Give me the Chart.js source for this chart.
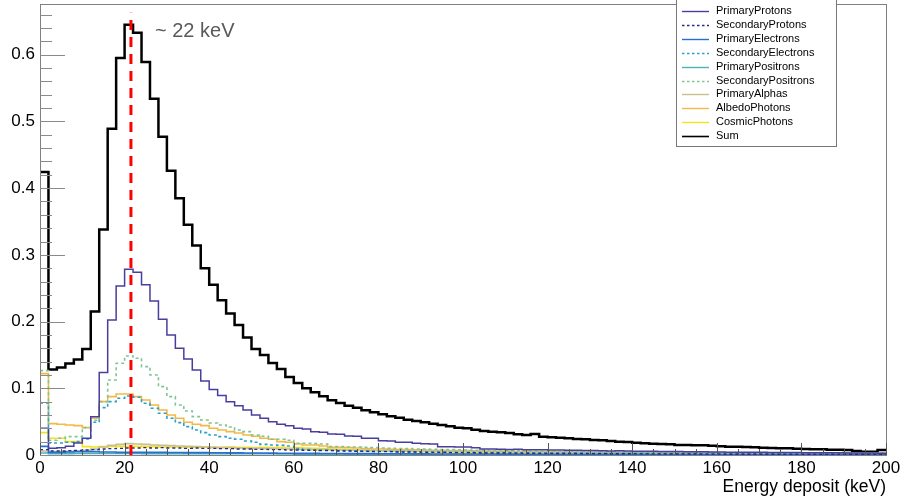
<!DOCTYPE html>
<html>
<head>
<meta charset="utf-8">
<script src="https://cdn.jsdelivr.net/npm/chart.js@4.4.1/dist/chart.umd.min.js"></script>
<style>
  html, body { margin: 0; padding: 0; background: #fff; }
  #wrap { width: 904px; height: 498px; }
</style>
</head>
<body>
<div id="wrap"><canvas id="myChart" width="904" height="498"></canvas></div>
<script>
// histogram: 100 bins of 2 keV from 0 to 200 keV
const binEdges = Array.from({ length: 101 }, (_, i) => 2 * i);
const xTicks = [0, 20, 40, 60, 80, 100, 120, 140, 160, 180, 200];
const yTicks = [0, 0.1, 0.2, 0.3, 0.4, 0.5, 0.6];
const peakLine = [21.5, 0.663];

const primaryProtons = [
  0.040, 0.010, 0.011, 0.013, 0.018, 0.025, 0.0575, 0.1235, 0.2025, 0.2535,
  0.2785, 0.274, 0.255, 0.231, 0.2035, 0.180, 0.160, 0.144, 0.1275, 0.111,
  0.098, 0.089, 0.080, 0.074, 0.0675, 0.060, 0.055, 0.050, 0.046, 0.044,
  0.040, 0.039, 0.035, 0.034, 0.0315, 0.031, 0.0285, 0.028, 0.025, 0.025,
  0.0215, 0.021, 0.019, 0.019, 0.0175, 0.017, 0.0165, 0.0125, 0.0125, 0.012,
  0.012, 0.011, 0.009, 0.009, 0.0088, 0.0083, 0.0086, 0.0080, 0.0079, 0.0078,
  0.0074, 0.0075, 0.0071, 0.0070, 0.0067, 0.0066, 0.0065, 0.0061, 0.0062, 0.0059,
  0.0058, 0.0056, 0.0055, 0.0054, 0.0051, 0.0051, 0.0049, 0.0048, 0.0047, 0.0045,
  0.0045, 0.0043, 0.0043, 0.0041, 0.0041, 0.0040, 0.0038, 0.0038, 0.0036, 0.0036,
  0.0035, 0.0034, 0.0033, 0.0033, 0.0032, 0.0031, 0.0030, 0.0030, 0.0029, 0.0028
];
const secondaryProtons = [
  0.008, 0.006, 0.006, 0.0065, 0.007, 0.0075, 0.008, 0.009, 0.0095, 0.010,
  0.0105, 0.0105, 0.011, 0.0105, 0.011, 0.0105, 0.0105, 0.010, 0.0105, 0.010,
  0.010, 0.0095, 0.0095, 0.009, 0.009, 0.0085, 0.0085, 0.008, 0.008, 0.0075,
  0.0075, 0.007, 0.007, 0.0065, 0.0065, 0.006, 0.006, 0.0055, 0.0055, 0.005,
  0.005, 0.005, 0.0045, 0.0045, 0.0045, 0.004, 0.004, 0.004, 0.0035, 0.0035,
  0.0035, 0.0033, 0.003, 0.003, 0.003, 0.0028, 0.0028, 0.0026, 0.0025, 0.0025,
  0.0024, 0.0023, 0.0022, 0.0022, 0.002, 0.002, 0.002, 0.0019, 0.0018, 0.0018,
  0.0017, 0.0017, 0.0016, 0.0016, 0.0015, 0.0015, 0.0014, 0.0014, 0.0013, 0.0013,
  0.0013, 0.0012, 0.0012, 0.0012, 0.0011, 0.0011, 0.0011, 0.001, 0.001, 0.001,
  0.001, 0.0009, 0.0009, 0.0009, 0.0009, 0.0008, 0.0008, 0.0008, 0.0008, 0.0007
];
const primaryElectrons = [
  0.013, 0.004, 0.004, 0.0045, 0.005, 0.005, 0.005, 0.0045, 0.0045, 0.004,
  0.004, 0.004, 0.004, 0.004, 0.004, 0.0038, 0.0038, 0.0036, 0.0035, 0.0035,
  0.0034, 0.0033, 0.0032, 0.0032, 0.003, 0.003, 0.003, 0.0028, 0.0027, 0.0026,
  0.0025, 0.0024, 0.0024, 0.0023, 0.0022, 0.0022, 0.0021, 0.0021, 0.002, 0.002,
  0.0019, 0.0019, 0.0018, 0.0018, 0.0017, 0.0017, 0.0016, 0.0016, 0.0015, 0.0015,
  0.0015, 0.0014, 0.0014, 0.0014, 0.0013, 0.0013, 0.0013, 0.0012, 0.0012, 0.0012,
  0.0011, 0.0011, 0.0011, 0.0011, 0.001, 0.001, 0.001, 0.001, 0.0009, 0.0009,
  0.0009, 0.0009, 0.0008, 0.0008, 0.0008, 0.0008, 0.0008, 0.0007, 0.0007, 0.0007,
  0.0007, 0.0007, 0.0006, 0.0006, 0.0006, 0.0006, 0.0006, 0.0006, 0.0005, 0.0005,
  0.0005, 0.0005, 0.0005, 0.0005, 0.0005, 0.0005, 0.0004, 0.0004, 0.0004, 0.0004
];
const secondaryElectrons = [
  0.078, 0.018, 0.018, 0.019, 0.020, 0.024, 0.049, 0.071, 0.080, 0.085,
  0.0885, 0.0865, 0.0775, 0.070, 0.0625, 0.055, 0.0485, 0.0425, 0.0375, 0.0335,
  0.030, 0.0275, 0.025, 0.0235, 0.021, 0.019, 0.016, 0.015, 0.0145, 0.0135,
  0.0095, 0.008, 0.0078, 0.0075, 0.007, 0.0068, 0.0065, 0.0062, 0.006, 0.0058,
  0.0056, 0.0054, 0.0052, 0.005, 0.0048, 0.0047, 0.0045, 0.0044, 0.0042, 0.0041,
  0.004, 0.0039, 0.0038, 0.0037, 0.0036, 0.0035, 0.0034, 0.0033, 0.0032, 0.0031,
  0.003, 0.003, 0.0029, 0.0028, 0.0028, 0.0027, 0.0026, 0.0026, 0.0025, 0.0025,
  0.0024, 0.0024, 0.0023, 0.0023, 0.0022, 0.0022, 0.0021, 0.0021, 0.002, 0.002,
  0.002, 0.0019, 0.0019, 0.0019, 0.0018, 0.0018, 0.0018, 0.0017, 0.0017, 0.0017,
  0.0016, 0.0016, 0.0016, 0.0016, 0.0015, 0.0015, 0.0015, 0.0015, 0.0014, 0.0014
];
const primaryPositrons = [
  0.003, 0.002, 0.002, 0.002, 0.0022, 0.0022, 0.0022, 0.0022, 0.0022, 0.0022,
  0.0022, 0.0022, 0.0021, 0.0021, 0.0021, 0.0021, 0.002, 0.002, 0.002, 0.002,
  0.002, 0.002, 0.0019, 0.0019, 0.0019, 0.0018, 0.0018, 0.0018, 0.0017, 0.0017,
  0.0013, 0.0013, 0.0013, 0.0012, 0.0012, 0.0012, 0.0012, 0.0011, 0.0011, 0.0011,
  0.0011, 0.001, 0.001, 0.001, 0.001, 0.001, 0.0009, 0.0009, 0.0009, 0.0009,
  0.0009, 0.0008, 0.0008, 0.0008, 0.0008, 0.0008, 0.0008, 0.0007, 0.0007, 0.0007,
  0.0007, 0.0007, 0.0007, 0.0006, 0.0006, 0.0006, 0.0006, 0.0006, 0.0006, 0.0006,
  0.0005, 0.0005, 0.0005, 0.0005, 0.0005, 0.0005, 0.0005, 0.0005, 0.0005, 0.0004,
  0.0004, 0.0004, 0.0004, 0.0004, 0.0004, 0.0004, 0.0004, 0.0004, 0.0004, 0.0004,
  0.0003, 0.0003, 0.0003, 0.0003, 0.0003, 0.0003, 0.0003, 0.0003, 0.0003, 0.0003
];
const secondaryPositrons = [
  0.1265, 0.022, 0.025, 0.0275, 0.0275, 0.041, 0.052, 0.080, 0.1125, 0.1375,
  0.1485, 0.145, 0.1325, 0.120, 0.1025, 0.0875, 0.075, 0.066, 0.0575, 0.0525,
  0.048, 0.045, 0.042, 0.0375, 0.035, 0.030, 0.028, 0.0235, 0.0235, 0.022,
  0.0175, 0.0175, 0.017, 0.0165, 0.0125, 0.0125, 0.012, 0.012, 0.0115, 0.011,
  0.0105, 0.010, 0.0098, 0.0095, 0.009, 0.0088, 0.0085, 0.0082, 0.008, 0.0078,
  0.0075, 0.0072, 0.007, 0.0068, 0.0066, 0.0064, 0.0062, 0.006, 0.0058, 0.0056,
  0.0055, 0.0053, 0.0052, 0.005, 0.0049, 0.0048, 0.0047, 0.0045, 0.0044, 0.0043,
  0.0042, 0.0041, 0.004, 0.0039, 0.0038, 0.0037, 0.0036, 0.0036, 0.0035, 0.0034,
  0.0033, 0.0033, 0.0032, 0.0031, 0.0031, 0.003, 0.003, 0.0029, 0.0029, 0.0028,
  0.0028, 0.0027, 0.0027, 0.0026, 0.0026, 0.0025, 0.0025, 0.0025, 0.0024, 0.0024
];
const primaryAlphas = [
  0.006, 0.005, 0.005, 0.0055, 0.006, 0.007, 0.009, 0.012, 0.0145, 0.016,
  0.017, 0.0165, 0.016, 0.015, 0.0145, 0.014, 0.0135, 0.013, 0.0125, 0.012,
  0.0115, 0.011, 0.011, 0.0105, 0.010, 0.010, 0.0095, 0.0095, 0.009, 0.009,
  0.0085, 0.0085, 0.008, 0.008, 0.0078, 0.0075, 0.0072, 0.007, 0.007, 0.0068,
  0.0066, 0.0065, 0.0063, 0.0062, 0.006, 0.006, 0.0058, 0.0057, 0.0055, 0.0055,
  0.0054, 0.0052, 0.0051, 0.005, 0.005, 0.0049, 0.0048, 0.0047, 0.0046, 0.0045,
  0.0045, 0.0044, 0.0043, 0.0042, 0.0042, 0.0041, 0.004, 0.004, 0.0039, 0.0038,
  0.0038, 0.0037, 0.0036, 0.0036, 0.0035, 0.0035, 0.0034, 0.0033, 0.0033, 0.0032,
  0.0032, 0.0031, 0.0031, 0.003, 0.003, 0.0029, 0.0029, 0.0028, 0.0028, 0.0027,
  0.0027, 0.0026, 0.0026, 0.0026, 0.0025, 0.0025, 0.0024, 0.0024, 0.0024, 0.0023
];
const albedoPhotons = [
  0.122, 0.047, 0.046, 0.045, 0.044, 0.041, 0.055, 0.080, 0.0875, 0.0915,
  0.0915, 0.0875, 0.0825, 0.075, 0.0675, 0.060, 0.055, 0.049, 0.046, 0.044,
  0.040, 0.0375, 0.035, 0.033, 0.030, 0.028, 0.025, 0.0235, 0.020, 0.019,
  0.0165, 0.015, 0.015, 0.0135, 0.0115, 0.0115, 0.011, 0.0105, 0.0095, 0.009,
  0.009, 0.0085, 0.008, 0.008, 0.0078, 0.0075, 0.0072, 0.007, 0.0068, 0.0066,
  0.0065, 0.0063, 0.006, 0.006, 0.0058, 0.0056, 0.0055, 0.0054, 0.0052, 0.005,
  0.005, 0.0049, 0.0048, 0.0047, 0.0046, 0.0045, 0.0044, 0.0043, 0.0042, 0.0042,
  0.0041, 0.004, 0.0039, 0.0039, 0.0038, 0.0037, 0.0037, 0.0036, 0.0035, 0.0035,
  0.0034, 0.0034, 0.0033, 0.0033, 0.0032, 0.0032, 0.0031, 0.0031, 0.003, 0.003,
  0.003, 0.0029, 0.0029, 0.0028, 0.0028, 0.0028, 0.0027, 0.0027, 0.0027, 0.0026
];
const cosmicPhotons = [
  0.0335, 0.025, 0.025, 0.020, 0.020, 0.0125, 0.012, 0.0125, 0.013, 0.013,
  0.0125, 0.013, 0.0125, 0.0125, 0.012, 0.012, 0.012, 0.0115, 0.0115, 0.012,
  0.0115, 0.0115, 0.012, 0.0115, 0.0115, 0.011, 0.0115, 0.011, 0.011, 0.0105,
  0.011, 0.0105, 0.010, 0.0095, 0.009, 0.0085, 0.008, 0.0075, 0.007, 0.0065,
  0.006, 0.0058, 0.0055, 0.0053, 0.005, 0.0048, 0.0047, 0.0045, 0.0044, 0.0043,
  0.0042, 0.0041, 0.004, 0.004, 0.0039, 0.0038, 0.0037, 0.0037, 0.0036, 0.0035,
  0.0035, 0.0034, 0.0034, 0.0033, 0.0033, 0.0032, 0.0032, 0.0031, 0.0031, 0.003,
  0.003, 0.003, 0.0029, 0.0029, 0.0028, 0.0028, 0.0028, 0.0027, 0.0027, 0.0027,
  0.0026, 0.0026, 0.0026, 0.0025, 0.0025, 0.0025, 0.0025, 0.0024, 0.0024, 0.0024,
  0.0024, 0.0023, 0.0023, 0.0023, 0.0023, 0.0022, 0.0022, 0.0022, 0.0022, 0.0022
];
const sum = [
  0.424, 0.128, 0.131, 0.137, 0.143, 0.159, 0.215, 0.338, 0.489, 0.595,
  0.645, 0.633, 0.589, 0.534, 0.477, 0.426, 0.385, 0.345, 0.314, 0.280,
  0.255, 0.232, 0.212, 0.195, 0.176, 0.159, 0.150, 0.138, 0.129, 0.117,
  0.108, 0.100, 0.094, 0.088, 0.082, 0.078, 0.074, 0.071, 0.067, 0.064,
  0.061, 0.058, 0.056, 0.053, 0.051, 0.049, 0.047, 0.045, 0.043, 0.041,
  0.040, 0.038, 0.036, 0.035, 0.034, 0.033, 0.031, 0.030, 0.0315, 0.0275,
  0.0265, 0.026, 0.025, 0.024, 0.0235, 0.0225, 0.022, 0.021, 0.020, 0.0195,
  0.0185, 0.0175, 0.017, 0.0165, 0.016, 0.015, 0.015, 0.0145, 0.0145, 0.014,
  0.013, 0.0125, 0.0125, 0.012, 0.0115, 0.011, 0.0105, 0.010, 0.010, 0.0095,
  0.009, 0.0085, 0.0085, 0.008, 0.008, 0.0075, 0.006, 0.005, 0.005, 0.0075
];

const FONT = "'Liberation Sans', Arial, Helvetica, sans-serif";

function toSteps(values) {
  const pts = values.map((v, i) => ({ x: binEdges[i], y: v }));
  pts.push({ x: binEdges[values.length], y: values[values.length - 1] });
  return pts;
}

function hist(label, values, color, width, dash) {
  return {
    label: label,
    data: toSteps(values),
    borderColor: color,
    backgroundColor: color,
    borderWidth: width,
    borderDash: dash || [],
    stepped: true,
    pointRadius: 0,
    fill: false,
    order: 2,
  };
}

const datasets = [
  hist("PrimaryProtons", primaryProtons, "rgb(72,62,158)", 1.5),
  hist("SecondaryProtons", secondaryProtons, "rgb(40,40,140)", 1.4, [3, 3]),
  hist("PrimaryElectrons", primaryElectrons, "rgb(40,110,215)", 1.6),
  hist("SecondaryElectrons", secondaryElectrons, "rgb(40,160,205)", 1.6, [3, 3]),
  hist("PrimaryPositrons", primaryPositrons, "rgb(70,180,185)", 1.6),
  hist("SecondaryPositrons", secondaryPositrons, "rgb(130,195,150)", 1.6, [3, 3]),
  hist("PrimaryAlphas", primaryAlphas, "rgb(200,192,140)", 1.6),
  hist("AlbedoPhotons", albedoPhotons, "rgb(242,185,70)", 1.6),
  hist("CosmicPhotons", cosmicPhotons, "rgb(245,225,30)", 1.6),
  hist("Sum", sum, "rgb(0,0,0)", 2.5),
  {
    label: "peak",
    data: [{ x: peakLine[0], y: 0 }, { x: peakLine[0], y: peakLine[1] }],
    borderColor: "rgb(255,0,0)",
    borderWidth: 3,
    borderDash: [10, 7],
    pointRadius: 0,
    fill: false,
    order: 0,
  },
];

// ROOT-like frame, inward ticks, legend box and annotations
const rootStyle = {
  id: "rootStyle",
  afterDraw(chart) {
    const ctx = chart.ctx;
    const a = chart.chartArea;
    const xs = chart.scales.x;
    const ys = chart.scales.y;
    ctx.save();

    // frame
    ctx.strokeStyle = "#808080";
    ctx.lineWidth = 1;
    ctx.setLineDash([]);
    ctx.strokeRect(a.left + 0.5, a.top + 0.5, a.right - a.left, a.bottom - a.top);

    // y ticks (minor every 0.02)
    ctx.strokeStyle = "#8a8a8a";
    for (let k = 0; k <= 33; k++) {
      const v = k * 0.02;
      const py = Math.round(ys.getPixelForValue(v)) + 0.5;
      const len = k % 5 === 0 ? 25 : 12;
      ctx.beginPath();
      ctx.moveTo(a.left, py);
      ctx.lineTo(a.left + len, py);
      ctx.stroke();
    }
    // x ticks (minor every 5 keV)
    ctx.strokeStyle = "#555";
    for (let k = 0; k <= 40; k++) {
      const v = k * 5;
      const px = Math.round(xs.getPixelForValue(v)) + 0.5;
      const len = k % 4 === 0 ? 12 : 6;
      ctx.beginPath();
      ctx.moveTo(px, a.bottom);
      ctx.lineTo(px, a.bottom - len);
      ctx.stroke();
    }

    // annotation
    ctx.fillStyle = "#5a5a5a";
    ctx.font = "20px " + FONT;
    ctx.textBaseline = "middle";
    ctx.textAlign = "left";
    ctx.fillText("~ 22 keV", 155, 31);

    // axis title
    ctx.fillStyle = "#000";
    ctx.font = "17.5px " + FONT;
    ctx.textAlign = "right";
    ctx.fillText("Energy deposit (keV)", 886, 487);

    // legend
    const lx = 676, ly = -1, lw = 160, lh = 147;
    ctx.fillStyle = "#fff";
    ctx.fillRect(lx, ly, lw, lh);
    ctx.strokeStyle = "#777";
    ctx.lineWidth = 1;
    ctx.strokeRect(lx + 0.5, ly + 0.5, lw, lh);
    ctx.font = "11px " + FONT;
    ctx.textAlign = "left";
    ctx.textBaseline = "middle";
    chart.data.datasets.forEach((ds, i) => {
      if (ds.label === "peak") return;
      const ry = 11 + i * 13.9;
      ctx.strokeStyle = ds.borderColor;
      ctx.lineWidth = ds.label === "Sum" ? 1.6 : 1.4;
      ctx.setLineDash(ds.borderDash && ds.borderDash.length ? [2.5, 2.5] : []);
      ctx.beginPath();
      ctx.moveTo(682, Math.round(ry) + 0.5);
      ctx.lineTo(709, Math.round(ry) + 0.5);
      ctx.stroke();
      ctx.setLineDash([]);
      ctx.fillStyle = "#000";
      ctx.fillText(ds.label, 716, ry);
    });
    ctx.restore();
  },
};

const config = {
  type: "line",
  data: { datasets: datasets },
  options: {
    responsive: false,
    animation: false,
    devicePixelRatio: 1,
    layout: { padding: { top: 4, right: 18, left: 0, bottom: 0 } },
    plugins: { legend: { display: false }, tooltip: { enabled: false } },
    scales: {
      x: {
        type: "linear",
        min: 0,
        max: 200,
        grid: { display: false, drawTicks: false },
        border: { display: false },
        afterBuildTicks: (s) => { s.ticks = xTicks.map((v) => ({ value: v })); },
        afterFit: (s) => { s.height = 43; s.paddingLeft = 0; s.paddingRight = 0; },
        ticks: {
          color: "#000",
          padding: 3,
          maxRotation: 0,
          autoSkip: false,
          font: { size: 17, family: FONT },
        },
      },
      y: {
        type: "linear",
        min: 0,
        max: 0.676,
        grid: { display: false, drawTicks: false },
        border: { display: false },
        afterBuildTicks: (s) => { s.ticks = yTicks.map((v) => ({ value: v })); },
        afterFit: (s) => { s.width = 40; s.paddingTop = 0; s.paddingBottom = 0; },
        ticks: {
          color: "#000",
          padding: 5,
          font: { size: 17, family: FONT },
          callback: (v) => (v === 0 ? "0" : v.toFixed(1)),
        },
      },
    },
  },
  plugins: [rootStyle],
};

const myChart = new Chart(document.getElementById("myChart"), config);
</script>
</body>
</html>
